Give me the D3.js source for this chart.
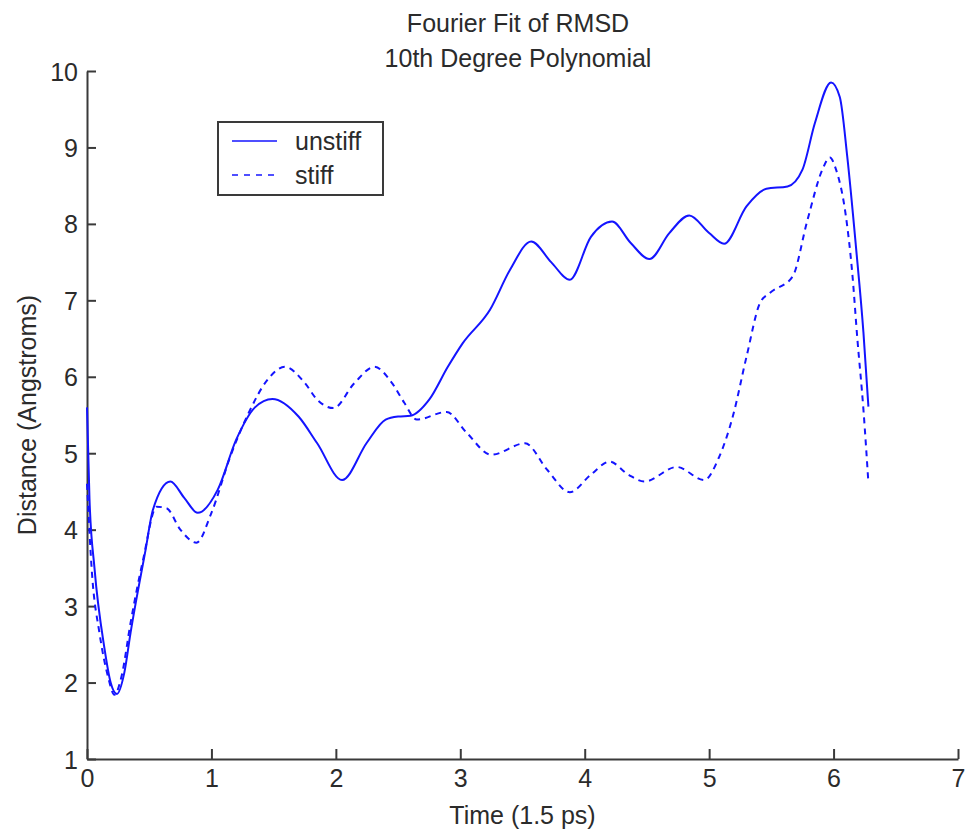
<!DOCTYPE html>
<html>
<head>
<meta charset="utf-8">
<script src="https://cdn.jsdelivr.net/npm/d3@7"></script>
<style>
  body { margin: 0; background: #fff; }
  svg text { font-family: "Liberation Sans", Arial, sans-serif; fill: #2b2b2b; }
</style>
</head>
<body>
<svg id="chart"></svg>
<script>
// Fourier fit of RMSD
const unstiffTime = [0, 0.02, 0.06, 0.14, 0.19, 0.24, 0.30, 0.35, 0.47, 0.53, 0.67, 0.78, 0.89,
  1.05, 1.2, 1.35, 1.49, 1.7, 1.85, 2.05, 2.25, 2.4, 2.5, 2.6, 2.75, 2.9, 3.02, 3.24, 3.4, 3.57,
  3.73, 3.88, 4.05, 4.22, 4.37, 4.52, 4.68, 4.84, 5.0, 5.12, 5.3, 5.46, 5.63, 5.75, 5.85, 5.98,
  6.05, 6.11, 6.18, 6.24, 6.28];
const unstiffDist = [5.6, 4.4, 3.5, 2.45, 2.0, 1.85, 2.13, 2.65, 3.73, 4.26, 4.63, 4.42, 4.22,
  4.52, 5.18, 5.6, 5.71, 5.48, 5.13, 4.65, 5.14, 5.44, 5.48, 5.49, 5.7, 6.13, 6.44, 6.88, 7.40, 7.77,
  7.50, 7.27, 7.83, 8.03, 7.75, 7.54, 7.88, 8.11, 7.88, 7.74, 8.23, 8.46, 8.49, 8.71, 9.32, 9.85,
  9.66, 8.88, 7.70, 6.58, 5.61];

const stiffTime = [0, 0.04, 0.10, 0.17, 0.22, 0.28, 0.35, 0.45, 0.56, 0.64, 0.75, 0.88, 1.0,
  1.15, 1.3, 1.45, 1.59, 1.75, 1.85, 1.98, 2.15, 2.31, 2.45, 2.55, 2.65, 2.89, 3.05, 3.25, 3.52,
  3.7, 3.88, 4.05, 4.2, 4.35, 4.48, 4.74, 4.96, 5.08, 5.19, 5.30, 5.41, 5.49, 5.67, 5.79, 5.91,
  5.97, 6.02, 6.10, 6.15, 6.19, 6.24, 6.28];
const stiffDist = [4.6, 3.43, 2.65, 2.07, 1.84, 2.1, 2.78, 3.6, 4.30, 4.28, 4.0, 3.83, 4.22,
  4.95, 5.53, 5.96, 6.13, 5.92, 5.70, 5.59, 5.92, 6.13, 5.92, 5.66, 5.44, 5.54, 5.27, 4.98, 5.13,
  4.78, 4.49, 4.72, 4.89, 4.72, 4.63, 4.82, 4.65, 4.95, 5.48, 6.26, 6.97, 7.10, 7.31, 8.05, 8.71,
  8.87, 8.71, 8.09, 7.36, 6.52, 5.57, 4.61];

const xTicks = [0, 1, 2, 3, 4, 5, 6, 7];
const yTicks = [1, 2, 3, 4, 5, 6, 7, 8, 9, 10];
const seriesNames = ["unstiff", "stiff"];
const titleLines = ["Fourier Fit of RMSD", "10th Degree Polynomial"];

const width = 966;
const height = 830;
const margin = { top: 71, right: 8, bottom: 71, left: 87 };
const lineColor = "#1414ff";
const axisColor = "#3a3a3a";
const fontSize = 25;

const svg = d3.select("#chart").attr("width", width).attr("height", height);

const x = d3.scaleLinear().domain([0, 7]).range([margin.left, width - margin.right]);
const y = d3.scaleLinear().domain([1, 10]).range([height - margin.bottom, margin.top]);

// axes, ticks point inward like the old matlab figure
const xAxis = svg.append("g")
  .attr("transform", `translate(0,${y(1)})`)
  .call(d3.axisBottom(x).tickValues(xTicks).tickSizeInner(-10).tickSizeOuter(0).tickPadding(10)
    .tickFormat(d3.format("d")));

const yAxis = svg.append("g")
  .attr("transform", `translate(${x(0)},0)`)
  .call(d3.axisLeft(y).tickValues(yTicks).tickSizeInner(-9).tickSizeOuter(0).tickPadding(9)
    .tickFormat(d3.format("d")));

[xAxis, yAxis].forEach(g => {
  g.select(".domain").attr("stroke", axisColor).attr("stroke-width", 2);
  g.selectAll(".tick line").attr("stroke", axisColor).attr("stroke-width", 2);
  g.selectAll(".tick text")
    .attr("font-size", fontSize)
    .attr("fill", "#2b2b2b")
    .style("font-family", "'Liberation Sans', Arial, sans-serif");
});
xAxis.selectAll(".tick text").attr("dy", "0.72em");
yAxis.selectAll(".tick text").attr("dy", "0.36em");

// curves
const line = d3.line()
  .x(d => x(d[0]))
  .y(d => y(d[1]))
  .curve(d3.curveMonotoneX);

const unstiff = d3.zip(unstiffTime, unstiffDist);
const stiff = d3.zip(stiffTime, stiffDist);

svg.append("path")
  .datum(stiff)
  .attr("d", line)
  .attr("fill", "none")
  .attr("stroke", lineColor)
  .attr("stroke-width", 2)
  .attr("stroke-dasharray", "6,5");

svg.append("path")
  .datum(unstiff)
  .attr("d", line)
  .attr("fill", "none")
  .attr("stroke", lineColor)
  .attr("stroke-width", 2);

// title
svg.append("g")
  .selectAll("text")
  .data(titleLines)
  .join("text")
  .attr("x", 518)
  .attr("y", (d, i) => 32 + i * 35)
  .attr("text-anchor", "middle")
  .attr("font-size", fontSize)
  .text(d => d);

// axis labels
svg.append("text")
  .attr("x", (x(0) + x(7)) / 2)
  .attr("y", 824)
  .attr("text-anchor", "middle")
  .attr("font-size", fontSize)
  .text("Time (1.5 ps)");

svg.append("text")
  .attr("transform", `translate(36,${(y(1) + y(10)) / 2}) rotate(-90)`)
  .attr("text-anchor", "middle")
  .attr("font-size", fontSize)
  .text("Distance (Angstroms)");

// legend
const legend = svg.append("g").attr("transform", "translate(218,122)");
legend.append("rect")
  .attr("width", 165)
  .attr("height", 73)
  .attr("fill", "#fff")
  .attr("stroke", axisColor)
  .attr("stroke-width", 2);

const items = legend.selectAll("g.item")
  .data(seriesNames)
  .join("g")
  .attr("class", "item")
  .attr("transform", (d, i) => `translate(0,${19 + i * 34})`);

items.append("line")
  .attr("x1", 14)
  .attr("x2", 59)
  .attr("stroke", lineColor)
  .attr("stroke-width", 2)
  .attr("stroke-opacity", 0.75)
  .attr("stroke-dasharray", (d, i) => i === 1 ? "6,6" : null);

items.append("text")
  .attr("x", 77)
  .attr("y", 9)
  .attr("font-size", fontSize)
  .text(d => d);
</script>
</body>
</html>
